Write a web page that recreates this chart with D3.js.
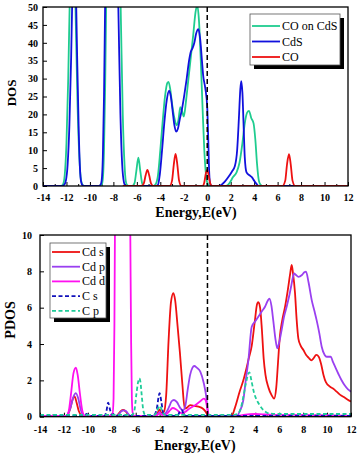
<!DOCTYPE html>
<html><head><meta charset="utf-8">
<script src="https://cdn.jsdelivr.net/npm/d3@7"></script>
<style>
body{margin:0;background:#fff;}
svg{display:block;}
text{font-family:"Liberation Serif","Times New Roman",serif;}
</style></head>
<body>
<svg id="c" width="359" height="457"></svg>
<script>
// ---------- DATA ----------
const xTicks = [-14,-12,-10,-8,-6,-4,-2,0,2,4,6,8,10,12];
const dosTicks = [0,5,10,15,20,25,30,35,40,45,50];
const pdosTicks = [0,2,4,6,8,10];

const dosNames = ["CO on CdS","CdS","CO"];
const pdosNames = ["Cd s","Cd p","Cd d","C s","C p"];

const coOnCdS = [[-14,0],[-12.45,0],[-12.3,0.4],[-12.15,3],[-12.0,12],[-11.85,30],[-11.7,55],[-11.5,75],[-11.35,70],[-11.2,45],[-11.05,22],[-10.9,8],[-10.75,1.5],[-10.6,0.2],[-10.4,0],
 [-9.2,0],[-9.0,0.4],[-8.9,2],[-8.8,10],[-8.7,28],[-8.6,55],[-8.5,78],[-8.35,92],[-8.1,82],[-7.9,78],[-7.65,88],[-7.45,62],[-7.35,45],[-7.2,20],[-7.05,6],[-6.95,1.5],[-6.85,0.3],[-6.7,0],
 [-6.4,0],[-6.2,0.8],[-6.05,4],[-5.87,7.9],[-5.7,4],[-5.55,0.8],[-5.4,0],
 [-4.6,0],[-4.4,0.5],[-4.2,3],[-4.0,10],[-3.8,18],[-3.6,25],[-3.4,28.8],[-3.3,29.1],[-3.15,27],[-3.0,23],[-2.8,19],[-2.6,17],[-2.45,18.5],[-2.3,22],[-2.15,21],[-2.0,19.4],[-1.8,24],[-1.6,30],[-1.4,36],[-1.2,42],[-1.0,48.5],[-0.85,50.5],[-0.7,46],[-0.55,35],[-0.4,22],[-0.25,10],[-0.1,3],[0.05,0.5],[0.2,0],
 [1.6,0],[1.9,0.8],[2.2,2.5],[2.5,3.8],[2.75,6.5],[3.0,12],[3.2,17.5],[3.4,20.5],[3.56,21],[3.75,19],[3.95,17.5],[4.1,13],[4.25,6],[4.4,1.5],[4.55,0.3],[4.7,0],[12,0]];

const cdS = [[-14,0],[-12.4,0],[-12.2,0.3],[-12.05,1.5],[-11.9,6],[-11.75,17],[-11.6,36],[-11.45,62],[-11.37,75],[-11.25,64],[-11.1,38],[-10.95,15],[-10.85,5],[-10.75,1.2],[-10.6,0.1],[-10.4,0],
 [-9.3,0],[-9.1,0.3],[-9.0,1.5],[-8.9,8],[-8.8,25],[-8.7,52],[-8.6,75],[-8.45,90],[-8.2,80],[-8.0,75],[-7.8,85],[-7.65,62],[-7.55,45],[-7.4,20],[-7.25,6],[-7.1,1],[-7.0,0.2],[-6.9,0],
 [-4.4,0],[-4.2,0.3],[-4.05,3],[-3.85,10],[-3.65,18],[-3.45,24],[-3.25,26.6],[-3.1,25],[-2.95,21],[-2.8,17],[-2.65,15.2],[-2.5,16],[-2.35,18.5],[-2.15,21.5],[-1.95,25.5],[-1.75,30],[-1.55,35],[-1.4,37.5],[-1.25,38.5],[-1.1,40],[-0.95,42.5],[-0.75,43.8],[-0.6,41],[-0.45,35],[-0.35,31],[-0.17,27.4],[0,22],[0.09,12.8],[0.17,3.6],[0.26,0.5],[0.4,0],
 [1.0,0],[1.2,0.3],[1.5,1.2],[1.8,2.5],[2.1,4],[2.35,5.5],[2.55,10],[2.7,19],[2.82,27],[2.9,29.3],[3.0,26],[3.1,17],[3.2,8],[3.35,3.8],[3.6,3],[3.8,2.5],[4.0,1.5],[4.2,0.6],[4.4,0],[12,0]];

const co = [[-7.2,0],[-5.6,0],[-5.4,0.8],[-5.25,3],[-5.1,4.5],[-4.95,3],[-4.8,0.8],[-4.6,0],
 [-3.2,0],[-3.0,1.5],[-2.85,6],[-2.7,9],[-2.55,6],[-2.4,1.5],[-2.2,0],
 [-0.4,0],[-0.25,1],[-0.1,3.8],[0,4.5],[0.12,3],[0.25,0.8],[0.4,0],
 [6.4,0],[6.65,1.5],[6.8,6],[6.97,8.9],[7.12,6],[7.27,1.5],[7.5,0],[12,0]];

const cdSs = [[-14,0],[-12,0],[-11.7,0.1],[-11.45,0.5],[-11.25,1.0],[-11.1,1.1],[-10.95,0.8],[-10.75,0.3],[-10.5,0.05],[-10.2,0],
 [-7.7,0],[-7.5,0.1],[-7.25,0.3],[-7.05,0.37],[-6.85,0.3],[-6.6,0.1],[-6.4,0],
 [-4.5,0],[-4.2,0.15],[-4.0,0.4],[-3.85,0.2],[-3.65,0.25],[-3.45,1.2],[-3.25,4.2],[-3.05,6.3],[-2.85,6.8],[-2.7,6.4],[-2.5,5],[-2.3,3.5],[-2.1,1.8],[-1.9,0.45],[-1.7,0.5],[-1.45,0.64],[-1.1,0.6],[-0.75,0.55],[-0.4,0.45],[-0.15,0.28],[0.05,0.05],[0.2,0],
 [2.0,0],[2.3,0.5],[2.7,1.4],[3.0,2.0],[3.2,2.5],[3.45,3.2],[3.7,3.9],[3.95,5.2],[4.15,6.2],[4.25,6.3],[4.4,6.0],[4.55,4.8],[4.7,3.2],[4.85,2.3],[5.1,1.6],[5.35,1.2],[5.57,1.0],[5.75,1.6],[5.9,3.0],[6.05,4.4],[6.25,5.3],[6.5,6.1],[6.7,6.9],[6.9,7.8],[7.04,8.35],[7.15,7.9],[7.32,6.8],[7.45,5.4],[7.6,4.3],[7.8,3.9],[8.02,3.67],[8.25,3.4],[8.45,3.25],[8.7,3.1],[8.85,3.2],[9.1,3.4],[9.3,3.3],[9.5,2.9],[9.7,2.3],[9.9,1.9],[10.25,1.65],[10.5,1.55],[10.8,1.38],[11.1,1.2],[11.4,1.08],[11.7,0.95],[12,0.83]];

const cdSp = [[-14,0],[-12,0],[-11.7,0.1],[-11.45,0.5],[-11.2,1.1],[-11.0,1.3],[-10.8,1.0],[-10.6,0.4],[-10.35,0.05],[-10.1,0],
 [-7.7,0],[-7.45,0.1],[-7.2,0.3],[-7.0,0.35],[-6.8,0.3],[-6.55,0.1],[-6.3,0],
 [-4.5,0],[-4.2,0.1],[-4.0,0.25],[-3.8,0.1],[-3.5,0.2],[-3.2,0.55],[-3.0,0.85],[-2.8,0.92],[-2.55,0.8],[-2.3,0.5],[-2.05,0.35],[-1.85,0.6],[-1.65,1.5],[-1.45,2.3],[-1.25,2.7],[-1.1,2.79],[-0.9,2.7],[-0.6,2.48],[-0.3,1.83],[-0.1,1.1],[0.05,0.2],[0.15,0],
 [2.4,0],[2.7,0.3],[3.0,0.92],[3.2,2.0],[3.42,3.1],[3.7,4.95],[4.0,5.25],[4.25,5.5],[4.55,5.8],[4.81,6.05],[5.05,6.4],[5.18,6.5],[5.35,6.1],[5.5,5.3],[5.7,4.2],[5.84,3.76],[6.0,4.1],[6.2,4.77],[6.4,5.5],[6.62,6.05],[6.85,6.7],[6.99,7.15],[7.15,7.7],[7.24,7.89],[7.4,7.8],[7.6,7.7],[7.9,7.8],[8.1,7.95],[8.24,7.98],[8.45,7.4],[8.72,6.4],[8.95,5.8],[9.13,5.3],[9.35,4.6],[9.55,3.85],[9.8,3.4],[9.97,3.3],[10.3,3.3],[10.5,3.0],[10.67,2.75],[10.95,2.35],[11.2,2.02],[11.5,1.7],[11.75,1.5],[12,1.38]];

const cdSd = [[-14,0.05],[-11.8,0.05],[-11.6,0.3],[-11.4,1.3],[-11.2,2.4],[-11.0,2.7],[-10.85,2.3],[-10.65,1.2],[-10.45,0.3],[-10.25,0.05],
 [-8.2,0.05],[-7.95,0.1],[-7.85,1],[-7.78,5],[-7.72,12],[-7.6,30],[-7.3,42],[-7.0,38],[-6.7,30],[-6.55,18],[-6.45,10],[-6.38,4],[-6.32,1],[-6.25,0.2],[-6.1,0.05],
 [-4.5,0.05],[-4.2,0.1],[-4.0,0.2],[-3.8,0.1],[-3.5,0.1],[-3.2,0.3],[-2.9,0.48],[-2.6,0.4],[-2.2,0.2],[-1.9,0.25],[-1.5,0.45],[-1.0,0.65],[-0.6,0.85],[-0.3,1.0],[-0.15,0.9],[0,0.4],[0.15,0.05],
 [2.5,0.05],[3.0,0.1],[4,0.15],[5,0.12],[6,0.1],[8,0.1],[10,0.08],[12,0.05]];

const cS = [[-14,0.05],[-10.3,0.05],[-10.1,0.15],[-9.95,0.05],[-8.6,0.05],[-8.45,0.3],[-8.3,0.77],[-8.15,0.4],[-8.0,0.1],[-7.8,0.15],[-7.5,0.05],
 [-4.5,0.05],[-4.25,0.4],[-4.0,1.29],[-3.85,0.8],[-3.7,0.2],[-3.5,0.05],[-2.5,0.05],[-2.3,0.3],[-2.15,0.37],[-2.0,0.15],[-1.8,0.05],[0,0.05],[2.5,0.05],[12,0.05]];

const cP = [[-14,0.1],[-6.3,0.1],[-6.12,0.3],[-5.95,1.2],[-5.8,1.9],[-5.7,2.11],[-5.6,1.9],[-5.5,1.2],[-5.35,0.3],[-5.2,0.1],
 [-4.4,0.1],[-4.2,0.35],[-4.0,0.6],[-3.8,0.35],[-3.6,0.1],[2.2,0.1],[2.6,0.2],[2.8,0.5],[3.0,1.1],[3.2,1.8],[3.5,2.44],[3.7,1.9],[3.9,1.3],[4.12,0.92],[4.4,0.6],[4.67,0.37],[4.9,0.25],[5.1,0.19],[6,0.15],[8,0.15],[10,0.15],[12,0.15]];

// ---------- DRAW ----------
const svg = d3.select("#c");
const fmt = d => String(d);

function panel(opt){
  const x = d3.scaleLinear().domain([-14,12]).range([opt.left,opt.right]);
  const y = d3.scaleLinear().domain([0,opt.ymax]).range([opt.bottom,opt.top]);
  const g = svg.append("g");
  const cid = "clip"+opt.id;
  svg.append("clipPath").attr("id",cid).append("rect")
    .attr("x",opt.left).attr("y",opt.top).attr("width",opt.right-opt.left).attr("height",opt.bottom-opt.top);
  // axes
  const xa = g.append("g").attr("transform",`translate(0,${opt.bottom})`)
    .call(d3.axisBottom(x).tickValues(xTicks).tickFormat(fmt).tickSizeInner(-4).tickSizeOuter(0).tickPadding(opt.xpad));
  const xm = g.append("g").attr("transform",`translate(0,${opt.bottom})`)
    .call(d3.axisBottom(x).tickValues(d3.range(-13,12,2)).tickFormat("").tickSizeInner(-2).tickSizeOuter(0));
  const ya = g.append("g").attr("transform",`translate(${opt.left},0)`)
    .call(d3.axisLeft(y).tickValues(opt.yTicks).tickFormat(fmt).tickSizeInner(-4).tickSizeOuter(0).tickPadding(opt.ypad));
  [xa,xm,ya].forEach(a=>{
    a.select(".domain").remove();
    a.selectAll("line").attr("stroke","#000").attr("stroke-width",1);
    a.selectAll("text").attr("font-family","Liberation Serif, serif").attr("font-weight","bold").attr("font-size",10).attr("fill","#000");
  });
  // curves
  const line = d3.line().x(d=>x(d[0])).y(d=>y(d[1])).curve(d3.curveMonotoneX);
  const cg = g.append("g").attr("clip-path",`url(#${cid})`);
  opt.series.forEach(s=>{
    cg.append("path").datum(s.data).attr("d",line).attr("fill","none")
      .attr("stroke",s.color).attr("stroke-width",s.w||1.8)
      .attr("stroke-dasharray",s.dash?"4,2.5":null).attr("stroke-linejoin","round");
  });
  // zero line
  g.append("line").attr("x1",x(0)).attr("x2",x(0)).attr("y1",opt.top).attr("y2",opt.bottom)
    .attr("stroke","#000").attr("stroke-width",1.5).attr("stroke-dasharray","5,3");
  // frame
  g.append("rect").attr("x",opt.left).attr("y",opt.top).attr("width",opt.right-opt.left).attr("height",opt.bottom-opt.top)
    .attr("fill","none").attr("stroke","#000").attr("stroke-width",1.3);
  // titles
  g.append("text").attr("x",opt.titleX).attr("y",opt.titleY).attr("text-anchor","middle")
    .attr("font-weight","bold").attr("font-size",14).text("Energy,E(eV)");
  g.append("text").attr("transform",`translate(${opt.ylabX},${opt.ylabY}) rotate(-90)`).attr("text-anchor","middle")
    .attr("font-weight","bold").attr("font-size",opt.ylabSize).text(opt.ylab);
  // legend
  const L = opt.legend;
  g.append("rect").attr("x",L.x+4).attr("y",L.y+4).attr("width",L.w).attr("height",L.h).attr("fill","#000");
  g.append("rect").attr("x",L.x).attr("y",L.y).attr("width",L.w).attr("height",L.h).attr("fill","#fff").attr("stroke","#555").attr("stroke-width",0.8);
  opt.series.forEach((s,i)=>{
    const yy = L.y + L.first + i*L.step;
    g.append("line").attr("x1",L.x+2).attr("x2",L.x+30).attr("y1",yy).attr("y2",yy)
      .attr("stroke",s.color).attr("stroke-width",1.8).attr("stroke-dasharray",s.dash?"4,2.5":null);
    g.append("text").attr("x",L.x+32).attr("y",yy+4).attr("font-size",12).text(s.name);
  });
}

panel({id:"a",left:43,right:348,top:7,bottom:186,ymax:50,yTicks:dosTicks,xpad:8,ypad:5,
  titleX:196,titleY:217,ylab:"DOS",ylabX:16,ylabY:93,ylabSize:13,
  legend:{x:250,y:14,w:90,h:51,first:12,step:15.5},
  series:[{name:dosNames[0],data:coOnCdS,color:"#1fcc8f"},
          {name:dosNames[1],data:cdS,color:"#1111dd"},
          {name:dosNames[2],data:co,color:"#ee1111"}]});

panel({id:"b",left:40,right:351,top:235,bottom:416.7,ymax:10,yTicks:pdosTicks,xpad:9,ypad:8,
  titleX:195,titleY:450,ylab:"PDOS",ylabX:15,ylabY:320,ylabSize:14,
  legend:{x:50,y:243,w:56,h:75,first:9,step:14.7},
  series:[{name:pdosNames[0],data:cdSs,color:"#ee1111"},
          {name:pdosNames[1],data:cdSp,color:"#9a40f0"},
          {name:pdosNames[2],data:cdSd,color:"#ff10f0"},
          {name:pdosNames[3],data:cS,color:"#1111bb",dash:true},
          {name:pdosNames[4],data:cP,color:"#1fcc99",dash:true}]});
</script>
</body></html>
